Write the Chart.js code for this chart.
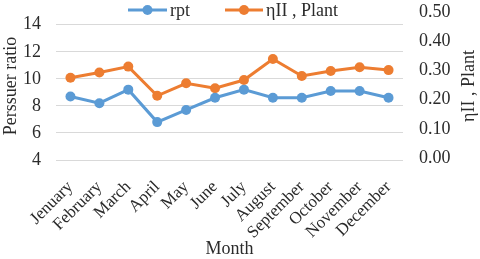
<!DOCTYPE html>
<html>
<head>
<meta charset="utf-8">
<script src="https://cdn.jsdelivr.net/npm/chart.js@4/dist/chart.umd.min.js"></script>
<style>
  html, body { margin: 0; padding: 0; background: #fff; }
  #wrap { width: 480px; height: 259px; }
</style>
</head>
<body>
<div id="wrap"><canvas id="c" width="480" height="259"></canvas></div>
<script>
const months = ["Jenuary", "February", "March", "April", "May", "June", "July", "August", "September", "October", "November", "December"];
const rpt = [8.7, 8.2, 9.2, 6.8, 7.7, 8.6, 9.2, 8.6, 8.6, 9.1, 9.1, 8.6];
const etaPlant = [0.275, 0.293, 0.313, 0.213, 0.256, 0.239, 0.267, 0.339, 0.281, 0.298, 0.311, 0.301];
const leftTicks = [4, 6, 8, 10, 12, 14];
const rightTicks = [0, 0.1, 0.2, 0.3, 0.4, 0.5];

const BLUE = '#5B9BD5';
const ORANGE = '#ED7D31';
const TEXT = '#2b2b2b';
const FONT = "'Liberation Serif', 'Times New Roman', serif";

const extrasPlugin = {
  id: 'extras',
  afterDraw(chart) {
    const ctx = chart.ctx;
    ctx.save();
    // legend
    const items = [
      { x1: 128, x2: 167, color: BLUE, label: 'rpt' },
      { x1: 225, x2: 263, color: ORANGE, label: 'ηII , Plant' }
    ];
    const ly = 10;
    items.forEach(it => {
      ctx.strokeStyle = it.color;
      ctx.lineWidth = 3;
      ctx.beginPath();
      ctx.moveTo(it.x1, ly);
      ctx.lineTo(it.x2, ly);
      ctx.stroke();
      ctx.fillStyle = it.color;
      ctx.beginPath();
      ctx.arc((it.x1 + it.x2) / 2, ly, 5, 0, Math.PI * 2);
      ctx.fill();
      ctx.fillStyle = TEXT;
      ctx.font = "18px " + FONT;
      ctx.textAlign = 'left';
      ctx.textBaseline = 'middle';
      ctx.fillText(it.label, it.x2 + 3, ly + 1);
    });
    // right axis title, reading bottom-to-top
    ctx.translate(469, 86);
    ctx.rotate(-Math.PI / 2);
    ctx.fillStyle = TEXT;
    ctx.font = "18px " + FONT;
    ctx.textAlign = 'center';
    ctx.textBaseline = 'middle';
    ctx.fillText('ηII , Plant', 0, 0);
    ctx.restore();
  }
};

new Chart(document.getElementById('c'), {
  type: 'line',
  data: {
    labels: months,
    datasets: [
      {
        label: 'rpt',
        data: rpt,
        yAxisID: 'y',
        borderColor: BLUE,
        backgroundColor: BLUE,
        borderWidth: 3,
        pointRadius: 5,
        pointBackgroundColor: BLUE,
        pointBorderColor: BLUE,
        pointBorderWidth: 0,
        tension: 0
      },
      {
        label: 'ηII , Plant',
        data: etaPlant,
        yAxisID: 'y1',
        borderColor: ORANGE,
        backgroundColor: ORANGE,
        borderWidth: 3,
        pointRadius: 5,
        pointBackgroundColor: ORANGE,
        pointBorderColor: ORANGE,
        pointBorderWidth: 0,
        tension: 0
      }
    ]
  },
  options: {
    responsive: false,
    animation: false,
    devicePixelRatio: 1,
    layout: { padding: { top: 12, left: 0, right: 0, bottom: 0 } },
    plugins: {
      legend: { display: false },
      tooltip: { enabled: false }
    },
    scales: {
      x: {
        offset: true,
        grid: { display: false, drawTicks: false },
        border: { display: false },
        ticks: {
          color: TEXT,
          font: { family: FONT, size: 17 },
          minRotation: 45,
          maxRotation: 45,
          autoSkip: false,
          padding: 17
        },
        title: {
          display: true,
          text: 'Month',
          color: TEXT,
          font: { family: FONT, size: 18, lineHeight: 1 },
          padding: { top: 0, bottom: 1 }
        },
        afterFit: s => { s.height = 99; s.paddingLeft = 0; s.paddingRight = 0; }
      },
      y: {
        position: 'left',
        min: 4,
        max: 14.94,
        grid: { color: '#D9D9D9', lineWidth: 1, drawTicks: false },
        border: { display: false },
        ticks: {
          color: TEXT,
          font: { family: FONT, size: 18 },
          padding: 15
        },
        afterBuildTicks: s => { s.ticks = leftTicks.map(v => ({ value: v })); },
        title: {
          display: true,
          text: 'Perssuer ratio',
          color: TEXT,
          font: { family: FONT, size: 18 },
          padding: { top: 0, bottom: 0 }
        },
        afterFit: s => { s.width = 56; s.paddingTop = 0; s.paddingBottom = 0; }
      },
      y1: {
        position: 'right',
        min: -0.0068,
        max: 0.5,
        grid: { display: false, drawTicks: false },
        border: { display: false },
        ticks: {
          color: TEXT,
          font: { family: FONT, size: 18 },
          padding: 16,
          callback: v => Number(v).toFixed(2)
        },
        afterBuildTicks: s => { s.ticks = rightTicks.map(v => ({ value: v })); },
        afterFit: s => { s.width = 77; s.paddingTop = 0; s.paddingBottom = 0; }
      }
    }
  },
  plugins: [extrasPlugin]
});
</script>
</body>
</html>
